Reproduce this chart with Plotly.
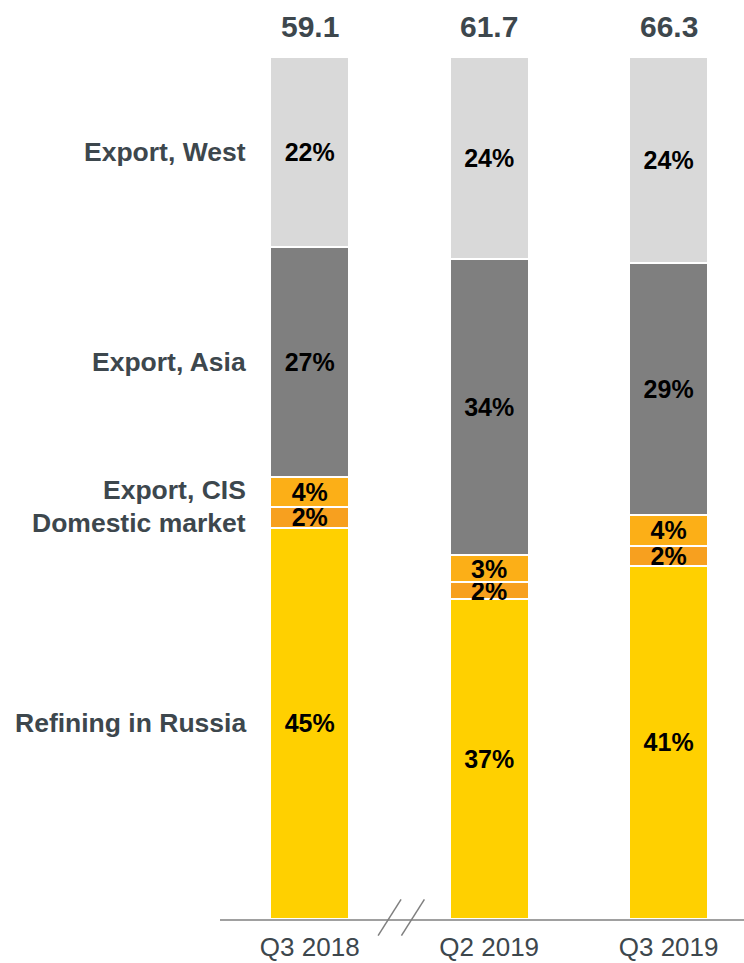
import plotly.graph_objects as go

periods = ["Q3 2018", "Q2 2019", "Q3 2019"]
totals = ["59.1", "61.7", "66.3"]

segments = ["Refining in Russia", "Domestic market", "Export, CIS", "Export, Asia", "Export, West"]
refining = [45.4, 37.1, 41.0]
domestic = [2.4, 2.0, 2.3]
export_cis = [3.5, 3.1, 3.6]
export_asia = [26.6, 34.4, 29.2]
export_west = [22.1, 23.4, 23.9]

refining_lbl = ["45%", "37%", "41%"]
domestic_lbl = ["2%", "2%", "2%"]
export_cis_lbl = ["4%", "3%", "4%"]
export_asia_lbl = ["27%", "34%", "29%"]
export_west_lbl = ["22%", "24%", "24%"]

colors = ["#FFD000", "#F7A01F", "#FCAF17", "#7F7F7F", "#D9D9D9"]

series = [refining, domestic, export_cis, export_asia, export_west]
labels = [refining_lbl, domestic_lbl, export_cis_lbl, export_asia_lbl, export_west_lbl]

FONT = "Liberation Sans, Arial, sans-serif"
DARK = "#3D474D"
BAR_W = 0.44

xpos = list(range(len(periods)))

fig = go.Figure()
for name, vals, lbl, col in zip(segments, series, labels, colors):
    fig.add_trace(go.Bar(
        x=xpos, y=vals, name=name, width=BAR_W,
        marker=dict(color=col, line=dict(color="white", width=2)),
        text=lbl, textposition="inside", insidetextanchor="middle",
        textangle=0,
        textfont=dict(family=FONT, size=25, color="black", weight="bold"),
        cliponaxis=False,
    ))

annotations = []
# totals on top
for i, t in enumerate(totals):
    annotations.append(dict(
        x=i, y=100, xref="x", yref="y", text=f"<b>{t}</b>", showarrow=False,
        yanchor="middle", yshift=30,
        font=dict(family=FONT, size=30, color=DARK),
    ))

# category labels to the left of the first bar, aligned with segments
cum = 0
for name, vals in zip(segments, series):
    mid = cum + vals[0] / 2
    cum += vals[0]
    shift = 0
    if name == "Domestic market":
        shift = -6
    if name == "Export, CIS":
        shift = 2
    annotations.append(dict(
        x=-BAR_W / 2, y=mid, xref="x", yref="y", text=f"<b>{name}</b>",
        showarrow=False, xanchor="right", yanchor="middle",
        xshift=-22, yshift=shift,
        font=dict(family=FONT, size=26.5, color=DARK),
    ))

shapes = []
for cx in (0.445, 0.575):
    shapes.append(dict(
        type="line", xref="x", yref="paper",
        x0=cx - 0.064, x1=cx + 0.064, y0=-0.018, y1=0.0214,
        line=dict(color="#7F7F7F", width=1.5),
    ))

fig.update_layout(
    barmode="stack",
    width=744, height=963,
    margin=dict(l=220, r=0, t=0, b=44),
    paper_bgcolor="white", plot_bgcolor="white",
    showlegend=False,
    annotations=annotations,
    shapes=shapes,
    uniformtext=dict(minsize=25, mode="show"),
    xaxis=dict(
        range=[-0.5, 2.42], tickmode="array", tickvals=xpos, ticktext=periods,
        showgrid=False, zeroline=False, showline=True,
        linecolor="#A0A0A0", linewidth=2,
        ticks="outside", ticklen=4, tickcolor="rgba(0,0,0,0)",
        tickfont=dict(family=FONT, size=26, color=DARK),
        automargin=False,
        fixedrange=True,
    ),
    yaxis=dict(
        range=[0, 106.6], visible=False, showgrid=False, zeroline=False,
        automargin=False,
        fixedrange=True,
    ),
)

fig.write_html(
    "out.html",
    config={"displayModeBar": False},
    post_script="document.body.style.margin='0px';document.body.style.overflow='hidden';",
)
